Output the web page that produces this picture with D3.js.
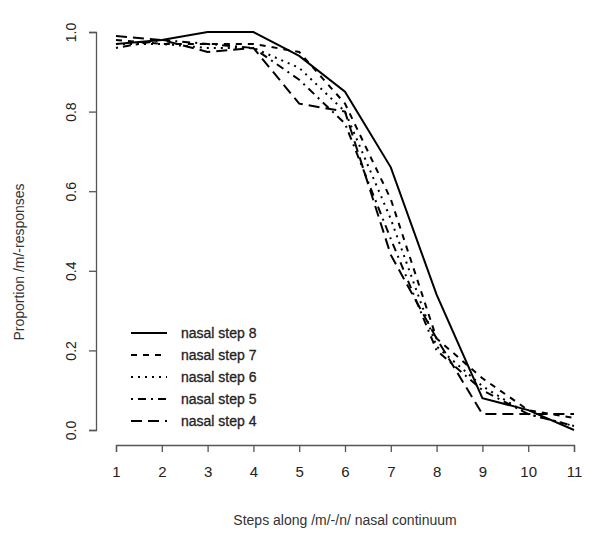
<!DOCTYPE html>
<html><head><meta charset="utf-8">
<script src="https://cdn.jsdelivr.net/npm/d3@7"></script>
<style>body{margin:0;background:#fff}svg{display:block}text{font-family:"Liberation Sans",Arial,sans-serif}</style>
</head><body><svg id="c" width="601" height="547"></svg>
<script>
const steps = [1,2,3,4,5,6,7,8,9,10,11];
const xTicks = [1,2,3,4,5,6,7,8,9,10,11];
const yTicks = [0.0,0.2,0.4,0.6,0.8,1.0];
const seriesNames = ["nasal step 8","nasal step 7","nasal step 6","nasal step 5","nasal step 4"];
const step8 = [0.97,0.98,1.00,1.00,0.94,0.85,0.66,0.34,0.08,0.05,0.00];
const step7 = [0.98,0.97,0.97,0.97,0.95,0.82,0.58,0.23,0.13,0.05,0.03];
const step6 = [0.97,0.97,0.96,0.96,0.91,0.80,0.53,0.21,0.11,0.04,0.01];
const step5 = [0.96,0.98,0.97,0.96,0.88,0.77,0.48,0.20,0.10,0.04,0.01];
const step4 = [0.99,0.98,0.95,0.96,0.82,0.80,0.44,0.23,0.04,0.04,0.04];
const seriesValues = [step8,step7,step6,step5,step4];
const dashes = ["", "6,6", "2,5", "2,5,8,5", "11,6"];

const svg = d3.select("#c");
const x = d3.scaleLinear().domain([1,11]).range([116,574]);
const y = d3.scaleLinear().domain([0,1]).range([430,32]);
const axisCol = "#555";

// axes
const xa = svg.append("g").attr("transform","translate(0,445)")
  .call(d3.axisBottom(x).tickValues(xTicks).tickFormat(d3.format("d")).tickSize(7).tickPadding(14));
const ya = svg.append("g").attr("transform","translate(96,0)")
  .call(d3.axisLeft(y).tickValues(yTicks).tickFormat(d3.format(".1f")).tickSize(7));
[xa,ya].forEach(g=>{
  g.select(".domain").attr("stroke",axisCol).attr("stroke-width",1.3);
  g.selectAll(".tick line").attr("stroke",axisCol).attr("stroke-width",1.3);
  g.selectAll(".tick text").attr("font-size",15).attr("fill","#222");
});
ya.selectAll(".tick text").attr("font-size",14).attr("transform","rotate(-90)").attr("x",0).attr("y",-25)
  .attr("dy","0.35em").attr("text-anchor","middle");

// lines
const line = d3.line().x((d,i)=>x(steps[i])).y(d=>y(d));
seriesValues.forEach((vals,k)=>{
  svg.append("path").datum(vals).attr("d",line).attr("fill","none")
    .attr("stroke","#000").attr("stroke-width",2)
    .attr("stroke-dasharray",dashes[k]||null);
});

// legend
seriesNames.forEach((n,k)=>{
  const yy = 333 + k*22;
  svg.append("line").attr("x1",131).attr("x2",167).attr("y1",yy).attr("y2",yy)
    .attr("stroke","#000").attr("stroke-width",2).attr("stroke-dasharray",dashes[k]||null);
  svg.append("text").attr("x",181).attr("y",yy).attr("dy","0.35em")
    .attr("font-size",14).attr("fill","#222").attr("stroke","#222").attr("stroke-width",0.3).text(n);
});

// axis titles
svg.append("text").attr("x",345).attr("y",525).attr("text-anchor","middle")
  .attr("font-size",14).attr("fill","#333").text("Steps along /m/-/n/ nasal continuum");
svg.append("text").attr("transform","translate(24,262) rotate(-90)").attr("text-anchor","middle")
  .attr("font-size",14).attr("fill","#333").text("Proportion /m/-responses");
</script></body></html>
